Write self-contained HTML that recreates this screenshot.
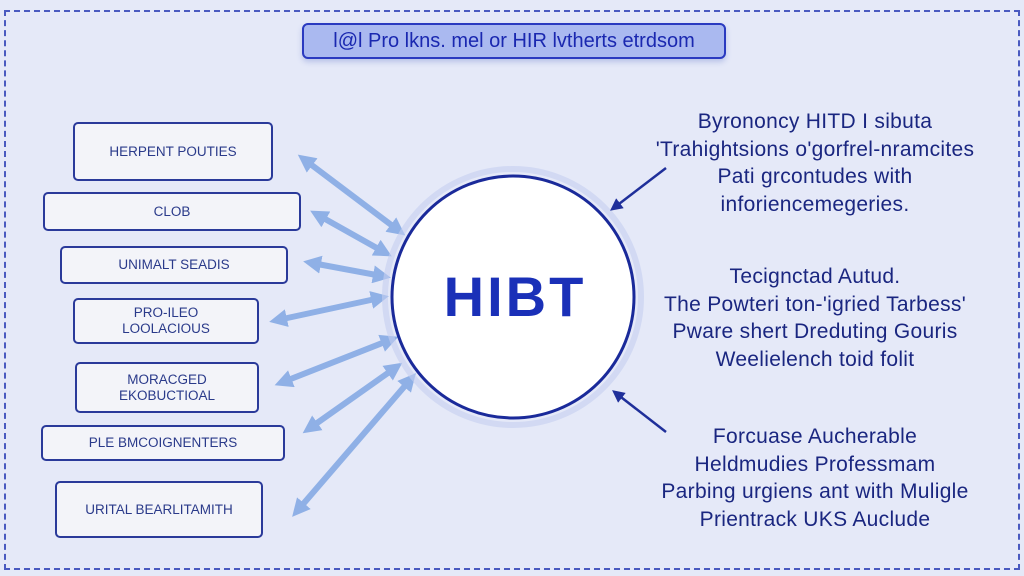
<!DOCTYPE html>
<html><head><style>
body{margin:0;width:1024px;height:576px;background:#e5e9f8;font-family:"Liberation Sans",sans-serif;position:relative;overflow:hidden}
.b{position:absolute;border:2px solid #2a3a9a;border-radius:5px;background:#f3f4f9;color:#2a3a8a;font-size:13.5px;display:flex;align-items:center;justify-content:center;text-align:center;line-height:16px}
.t{position:absolute;left:615px;width:400px;text-align:center;color:#1a2680;font-size:21px;line-height:27.5px;letter-spacing:0.3px}
</style></head><body>
<div style="position:absolute;left:4px;top:10px;width:1012px;height:556px;border:2px dashed #4a5ac0"></div>
<div style="position:absolute;left:302px;top:23px;width:420px;height:32px;border:2px solid #2a3ac0;border-radius:6px;background:#aab9f0;color:#1a28b0;font-size:20px;display:flex;align-items:center;justify-content:center;box-shadow:0 3px 6px #b8c2e8">l@l Pro lkns. mel or HIR lvtherts etrdsom</div>
<div class="b" style="left:73px;top:122px;width:196px;height:55px">HERPENT POUTIES</div>
<div class="b" style="left:43px;top:192px;width:254px;height:35px">CLOB</div>
<div class="b" style="left:60px;top:246px;width:224px;height:34px">UNIMALT SEADIS</div>
<div class="b" style="left:73px;top:298px;width:182px;height:42px">PRO-ILEO<br>LOOLACIOUS</div>
<div class="b" style="left:75px;top:362px;width:180px;height:47px">MORACGED<br>EKOBUCTIOAL</div>
<div class="b" style="left:41px;top:425px;width:240px;height:32px">PLE BMCOIGNENTERS</div>
<div class="b" style="left:55px;top:481px;width:204px;height:53px">URITAL BEARLITAMITH</div>
<svg width="1024" height="576" style="position:absolute;left:0;top:0">
<defs><marker id="a" viewBox="0 0 10 10" refX="5" refY="5" markerWidth="3" markerHeight="3" orient="auto-start-reverse"><path d="M0,0L10,5L0,10z" fill="#8fb0e6"/></marker>
<marker id="d" viewBox="0 0 10 10" refX="5" refY="5" markerWidth="5" markerHeight="5" orient="auto"><path d="M0,0L10,5L0,10z" fill="#1f2f9a"/></marker></defs>
<g stroke="#8fb0e6" stroke-width="6" fill="none" marker-start="url(#a)" marker-end="url(#a)">
<line x1="305" y1="160" x2="398" y2="230"/>
<line x1="318" y1="215" x2="384" y2="252"/>
<line x1="312" y1="263" x2="382" y2="276"/>
<line x1="278" y1="320" x2="380" y2="298"/>
<line x1="283" y1="382" x2="390" y2="340"/>
<line x1="310" y1="428" x2="395" y2="368"/>
<line x1="298" y1="510" x2="410" y2="380"/>
</g>
<circle cx="513" cy="297" r="121" fill="#fff" stroke="#1a2a9a" stroke-width="3"/>
<circle cx="513" cy="297" r="128" fill="none" stroke="#c5cff0" stroke-width="6" opacity=".6"/>
<text x="515" y="316" text-anchor="middle" font-family="Liberation Sans" font-weight="bold" font-size="56" letter-spacing="3" fill="#1a30b8">HIBT</text>
<g stroke="#1f2f9a" stroke-width="2.5" marker-end="url(#d)">
<line x1="666" y1="168" x2="615" y2="207"/>
<line x1="666" y1="432" x2="617" y2="394"/>
</g>
</svg>
<div class="t" style="top:108px">Byrononcy HITD I sibuta<br>'Trahightsions o'gorfrel-nramcites<br>Pati grcontudes with<br>inforiencemegeries.</div>
<div class="t" style="top:263px">Tecignctad Autud.<br>The Powteri ton-'igried Tarbess'<br>Pware shert Dreduting Gouris<br>Weelielench toid folit</div>
<div class="t" style="top:423px">Forcuase Aucherable<br>Heldmudies Professmam<br>Parbing urgiens ant with Muligle<br>Prientrack UKS Auclude</div>
</body></html>
